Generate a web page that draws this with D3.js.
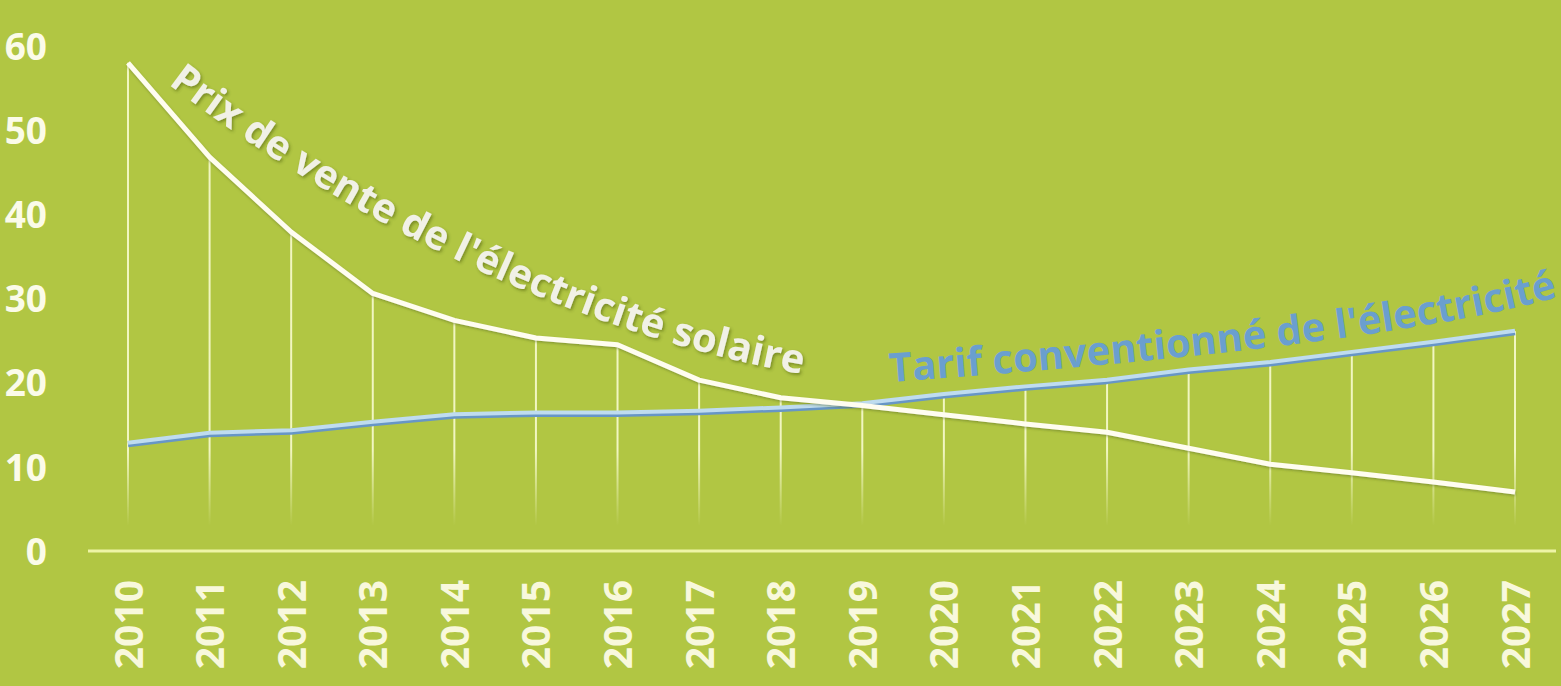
<!DOCTYPE html>
<html>
<head>
<meta charset="utf-8">
<script src="https://cdn.jsdelivr.net/npm/d3@7"></script>
<style>
  html, body { margin: 0; padding: 0; background: #b1c643; overflow: hidden; }
  svg { display: block; }
</style>
</head>
<body>
<svg id="chart" width="1561" height="686"></svg>
<script>
// ---- data ----
const years = ["2010","2011","2012","2013","2014","2015","2016","2017","2018",
               "2019","2020","2021","2022","2023","2024","2025","2026","2027"];
const solarPrice = [58.0, 46.8, 37.9, 30.6, 27.4, 25.3, 24.5, 20.3, 18.2,
                    17.3, 16.2, 15.1, 14.1, 12.2, 10.3, 9.3, 8.2, 7.0];
const conventionalTariff = [12.8, 14.0, 14.3, 15.3, 16.2, 16.4, 16.4, 16.6, 17.0,
                            17.5, 18.6, 19.5, 20.3, 21.5, 22.4, 23.6, 24.8, 26.1];
const yTicks = [0, 10, 20, 30, 40, 50, 60];
const solarLabel = "Prix de vente de l'électricité solaire";
const tariffLabel = "Tarif conventionné de l'électricité";

// ---- layout ----
const W = 1561, H = 686;
const svg = d3.select("#chart");
svg.append("rect").attr("width", W).attr("height", H).attr("fill", "#b1c643");

const x = d3.scalePoint().domain(years).range([128, 1515]);
const y = d3.scaleLinear().domain([0, 60]).range([551, 46]);

const defs = svg.append("defs");
const grad = defs.append("linearGradient")
  .attr("id", "dropFade").attr("gradientUnits", "userSpaceOnUse")
  .attr("x1", 0).attr("x2", 0).attr("y1", y(12)).attr("y2", y(3));
grad.append("stop").attr("offset", 0).attr("stop-color", "#f4f8c8").attr("stop-opacity", 0.95);
grad.append("stop").attr("offset", 1).attr("stop-color", "#f4f8c8").attr("stop-opacity", 0);

const shadow = defs.append("filter").attr("id", "shadow")
  .attr("x", "-10%").attr("y", "-10%").attr("width", "130%").attr("height", "140%");
shadow.append("feDropShadow").attr("dx", 1.5).attr("dy", 2).attr("stdDeviation", 1.5)
  .attr("flood-color", "#3d4a10").attr("flood-opacity", 0.45);

const lineShadow = defs.append("filter").attr("id", "lineShadow")
  .attr("x", "-5%").attr("y", "-20%").attr("width", "110%").attr("height", "140%");
lineShadow.append("feDropShadow").attr("dx", 0.5).attr("dy", 1.5).attr("stdDeviation", 1)
  .attr("flood-color", "#5a6a20").attr("flood-opacity", 0.5);

// ---- vertical drop lines ----
const rows = years.map((yr, i) => ({ yr, s: solarPrice[i], c: conventionalTariff[i] }));
svg.append("g").selectAll("line").data(rows).join("line")
  .attr("x1", d => x(d.yr)).attr("x2", d => x(d.yr))
  .attr("y1", d => y(Math.max(d.s, d.c))).attr("y2", y(3))
  .attr("stroke", "url(#dropFade)").attr("stroke-width", 2);

// ---- baseline ----
svg.append("line")
  .attr("x1", 88).attr("x2", 1556).attr("y1", y(0)).attr("y2", y(0))
  .attr("stroke", "#eef4a6").attr("stroke-width", 3);

// ---- y axis ----
const yAxis = svg.append("g").attr("transform", "translate(47,0)")
  .call(d3.axisLeft(y).tickValues(yTicks).tickSize(0).tickPadding(0).tickFormat(d3.format("d")));
yAxis.select(".domain").remove();
yAxis.selectAll("text")
  .attr("fill", "#fbfbe9")
  .style("font-family", "'Open Sans', sans-serif")
  .style("font-weight", 700)
  .style("font-size", "37px")
  .attr("dy", "0.36em");

// ---- x axis ----
const xAxis = svg.append("g").attr("transform", "translate(0,580)")
  .call(d3.axisBottom(x).tickSize(0).tickPadding(0));
xAxis.select(".domain").remove();
xAxis.selectAll("text")
  .attr("fill", "#f8f8dc")
  .style("font-family", "'Open Sans', sans-serif")
  .style("font-weight", 700)
  .style("font-size", "39px")
  .style("text-anchor", "end")
  .attr("x", 0).attr("y", 0).attr("dy", "0.36em")
  .attr("transform", "rotate(-90)");

// ---- lines ----
const lineS = d3.line().x(d => x(d.yr)).y(d => y(d.s));
const lineC = d3.line().x(d => x(d.yr)).y(d => y(d.c));

svg.append("path").datum(rows).attr("d", lineC)
  .attr("fill", "none").attr("stroke", "#6796c6").attr("stroke-width", 6)
  .attr("stroke-linejoin", "round").attr("transform", "translate(0,1)");
svg.append("path").datum(rows).attr("d", lineC)
  .attr("fill", "none").attr("stroke", "#bfdcef").attr("stroke-width", 4)
  .attr("stroke-linejoin", "round").attr("transform", "translate(0,-0.5)");

svg.append("path").datum(rows).attr("d", lineS)
  .attr("fill", "none").attr("stroke", "#fffdf0").attr("stroke-width", 5)
  .attr("stroke-linejoin", "round").attr("filter", "url(#lineShadow)");

// ---- curved labels (glyph by glyph along a guide curve) ----
function textAlong(pathD, str, fontSize, fill, filter) {
  const guide = defs.append("path").attr("d", pathD).node();
  const L = guide.getTotalLength();
  const style = t => t.style("font-family", "'Open Sans', sans-serif")
    .style("font-weight", 700).style("font-size", fontSize + "px");
  const probe = style(svg.append("text")).attr("x", -999).attr("y", -999);
  const chars = Array.from(str);
  const widths = chars.map(c => {
    probe.text(c === " " ? "\u00a0" : c);
    return probe.node().getComputedTextLength();
  });
  probe.remove();
  const total = d3.sum(widths);
  const gap = (L - total) / (chars.length - 1);
  const g = svg.append("g").attr("fill", fill);
  if (filter) g.attr("filter", filter);
  let pos = 0;
  chars.forEach((c, i) => {
    const mid = Math.min(L, pos + widths[i] / 2);
    const p = guide.getPointAtLength(mid);
    const p2 = guide.getPointAtLength(Math.min(L, mid + 1));
    const p1 = guide.getPointAtLength(Math.max(0, mid - 1));
    const ang = Math.atan2(p2.y - p1.y, p2.x - p1.x) * 180 / Math.PI;
    if (c !== " ") {
      style(g.append("text"))
        .attr("text-anchor", "middle")
        .attr("transform", `translate(${p.x},${p.y}) rotate(${ang})`)
        .text(c);
    }
    pos += widths[i] + gap;
  });
}

textAlong("M168,84 C370,238 603,339 802,374", solarLabel, 40, "#f1f1e6", "url(#shadow)");
textAlong("M890,382 C1140,364 1410,338 1558,297", tariffLabel, 40, "#6a9fcf", null);
</script>
</body>
</html>
